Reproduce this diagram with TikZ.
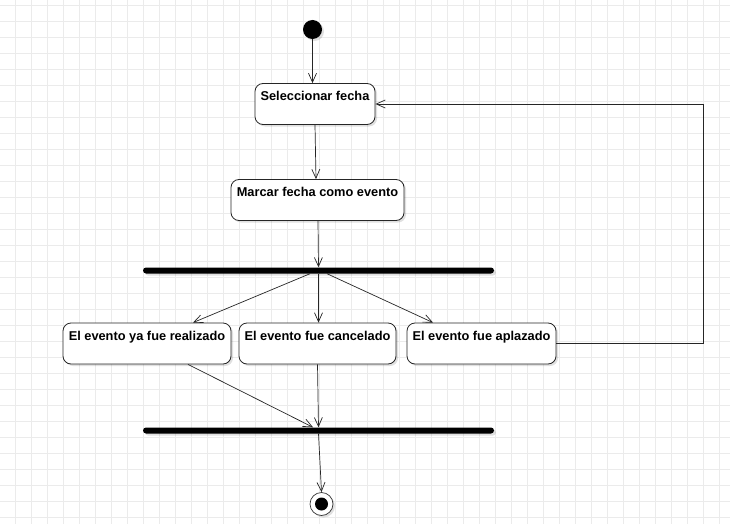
\documentclass[tikz,border=0pt]{standalone}
\usepackage{fontspec}
\setmainfont{Liberation Sans}
\usetikzlibrary{arrows.meta,shadows,calc}
\tikzset{
  gridline/.style={draw=black!8, line width=0.6pt},
  shad/.style={drop shadow={shadow xshift=2pt, shadow yshift=-2pt, fill=black, opacity=0.12}},
  state/.style={draw=black!85, line width=0.8pt, rounded corners=8pt, fill=white,
    minimum height=41pt, inner sep=0pt, shad},
  lbl/.style={font=\bfseries\fontsize{12.8}{15}\selectfont, anchor=north, inner sep=0pt, yshift=-8pt},
  bar/.style={fill=black, rounded corners=3pt, minimum height=6pt, minimum width=351pt,
    inner sep=0pt, draw=none, shad},
  arr/.style={draw=black!85, line width=0.7pt, -{Straight Barb[length=9pt,width=8pt]}},
}
\begin{document}
\begin{tikzpicture}[x=1pt,y=-1pt]
\useasboundingbox (0,0) rectangle (730,524);
\fill[white] (0,0) rectangle (730,524);
\foreach \x in {15,31,...,730} \draw[gridline] (\x,0) -- (\x,524);
\foreach \y in {5,21,...,524} \draw[gridline] (0,\y) -- (730,\y);

\node[circle, fill=black, minimum size=19pt, inner sep=0pt, shad] (start) at (312.5,29.5) {};

\node[state, minimum width=120pt, label={[lbl]north:Seleccionar fecha}] (sel) at (315,104) {};
\node[state, minimum width=173pt, label={[lbl]north:Marcar fecha como evento}] (marcar) at (317.5,200) {};

\node[bar] (fork) at (318.5,270.5) {};

\node[state, minimum width=168pt, label={[lbl]north:El evento ya fue realizado}] (real) at (147,343.5) {};
\node[state, minimum width=157pt, label={[lbl]north:El evento fue cancelado}] (canc) at (317.5,343.5) {};
\node[state, minimum width=149pt, label={[lbl]north:El evento fue aplazado}] (apla) at (481.5,343.5) {};

\node[bar] (join) at (318.5,430.5) {};

\node[circle, draw=black!80, fill=white, line width=0.7pt, minimum size=23pt, inner sep=0pt, shad] (end) at (321.5,504) {};
\node[circle, fill=black, minimum size=13pt, inner sep=0pt] (endin) at (end) {};

\draw[arr] (start.south) -- (start.south |- sel.north);
\draw[arr] ($(sel.south)+(0,0)$) -- ($(marcar.north)+(-1.5,0)$);
\draw[arr] ($(marcar.south)+(0.5,0)$) -- (fork.north);
\draw[arr] ($(fork.south)+(-8.5,0)$) -- (real.north -| 193,0);
\draw[arr] (fork.south) -- (fork.south |- canc.north);
\draw[arr] ($(fork.south)+(8.5,0)$) -- (apla.north -| 433,0);
\draw[arr] (real.south -| 188,0) -- ($(join.north)+(-5.5,0)$);
\draw[arr] (canc.south) -- (join.north);
\draw[arr] (join.south) -- (end.north);
\draw[arr] (apla.east) -- ++(147,0) |- (sel.east);
\end{tikzpicture}
\end{document}
